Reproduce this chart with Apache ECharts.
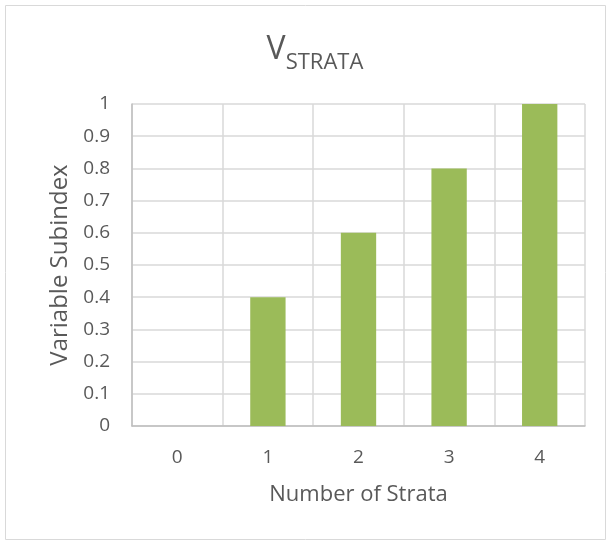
<!DOCTYPE html>
<html>
<head>
<meta charset="utf-8">
<script src="https://cdn.jsdelivr.net/npm/echarts@6/dist/echarts.min.js"></script>
<style>
  html, body { margin: 0; padding: 0; background: #fff; }
  #main { width: 610px; height: 544px; }
</style>
</head>
<body>
<div id="main"></div>
<script>
var strata = ['0', '1', '2', '3', '4'];
var subindex = [0, 0.4, 0.6, 0.8, 1];
var yTicks = [0, 0.1, 0.2, 0.3, 0.4, 0.5, 0.6, 0.7, 0.8, 0.9, 1];

var textColor = '#595959';
var font = 'Open Sans';

var chart = echarts.init(document.getElementById('main'));
chart.setOption({
    animation: false,
    textStyle: { fontFamily: font },
    graphic: [{
        type: 'rect',
        shape: { x: 5.5, y: 5.5, width: 600, height: 534 },
        style: { fill: 'none', stroke: '#d9d9d9', lineWidth: 1 }
    }],
    title: {
        text: '{v|V}{s|STRATA}',
        left: 310,
        top: 29,
        textAlign: 'center',
        textStyle: {
            fontWeight: 'normal',
            rich: {
                v: { fontSize: 32, color: textColor, fontFamily: font, fontWeight: 'normal', verticalAlign: 'bottom' },
                s: { fontSize: 22, color: textColor, fontFamily: font, fontWeight: 'normal', verticalAlign: 'bottom', padding: [0, 0, -8, 0] }
            }
        }
    },
    grid: { left: 132, right: 25, top: 104, bottom: 118 },
    xAxis: {
        type: 'category',
        data: strata,
        name: 'Number of Strata',
        nameLocation: 'middle',
        nameGap: 58,
        nameTextStyle: { fontSize: 22, color: textColor },
        axisLine: { lineStyle: { color: '#bfbfbf', width: 1.5 } },
        axisTick: { show: false },
        axisLabel: { fontSize: 19, color: textColor, margin: 22 },
        splitLine: { show: true, lineStyle: { color: '#d9d9d9', width: 1.5 } }
    },
    yAxis: {
        type: 'value',
        min: yTicks[0],
        max: yTicks[yTicks.length - 1],
        interval: 0.1,
        name: 'Variable Subindex',
        nameLocation: 'middle',
        nameGap: 60,
        nameTextStyle: { fontSize: 24, color: textColor },
        axisLine: { show: true, lineStyle: { color: '#bfbfbf', width: 1.5 } },
        axisTick: { show: false },
        axisLabel: {
            fontSize: 19, color: textColor, margin: 22,
            formatter: function (v) { return String(Math.round(v * 10) / 10); }
        },
        splitLine: { show: true, lineStyle: { color: '#d9d9d9', width: 1.5 } }
    },
    series: [{
        type: 'bar',
        data: subindex,
        barWidth: '39%',
        itemStyle: { color: '#9bbb59' }
    }]
});
</script>
</body>
</html>
